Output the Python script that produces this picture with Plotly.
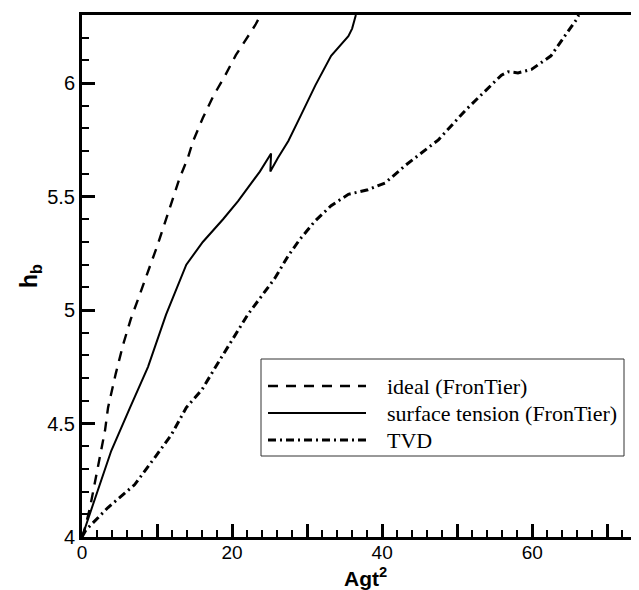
import plotly.graph_objects as go

# ---- data ----
ideal_x = [0.0, 0.4, 1.07, 1.87, 3.07, 3.47, 4.5, 5.5, 6.5, 7.5, 8.5, 10.0, 11.0, 12.0, 13.0, 14.1, 14.8, 16.1, 17.5, 19.1, 20.5, 23.1, 23.8]
ideal_y = [4.0, 4.04, 4.13, 4.27, 4.47, 4.57, 4.72, 4.85, 4.96, 5.05, 5.14, 5.28, 5.38, 5.48, 5.58, 5.67, 5.744, 5.846, 5.943, 6.035, 6.123, 6.256, 6.3]

surf_x = [0.0, 0.8, 2.1, 3.9, 6.4, 8.8, 11.2, 13.9, 16.1, 18.8, 20.8, 22.1, 23.7, 25.2, 25.1, 26.1, 27.5, 29.2, 31.1, 33.2, 34.4, 35.5, 36.0, 36.5]
surf_y = [4.0, 4.08, 4.2, 4.38, 4.57, 4.75, 4.98, 5.2, 5.3, 5.4, 5.48, 5.54, 5.61, 5.69, 5.61, 5.67, 5.745, 5.86, 5.99, 6.12, 6.167, 6.207, 6.24, 6.3]

tvd_x = [0.0, 0.5, 3.47, 7.0, 9.7, 11.9, 13.9, 15.0, 16.0, 18.0, 20.0, 22.1, 25.7, 27.5, 29.0, 31.0, 33.2, 35.5, 38.1, 40.4, 43.2, 47.5, 51.1, 55.9, 56.8, 58.1, 59.9, 62.5, 64.4, 65.9, 66.2]
tvd_y = [4.0, 4.03, 4.13, 4.23, 4.35, 4.45, 4.57, 4.61, 4.65, 4.76, 4.87, 4.98, 5.14, 5.24, 5.31, 5.39, 5.46, 5.51, 5.53, 5.56, 5.64, 5.75, 5.88, 6.035, 6.05, 6.045, 6.06, 6.12, 6.21, 6.28, 6.3]

legend_names = ["ideal (FronTier)", "surface tension (FronTier)", "TVD"]
x_title = "<b>Agt<sup>2</sup></b>"
y_title = "<b>h<sub>b</sub></b>"
x_range = [0, 75.3]
y_range = [4, 6.3]

# ---- styles ----
styles = [
    dict(color="black", width=2.4, dash="10px,8px"),
    dict(color="black", width=2.0, dash="solid"),
    dict(color="black", width=3.0, dash="8px,4px,2px,4px"),
]

fig = go.Figure()
for xs, ys, nm, st in zip([ideal_x, surf_x, tvd_x], [ideal_y, surf_y, tvd_y], legend_names, styles):
    fig.add_trace(go.Scatter(x=xs, y=ys, mode="lines", name=nm, line=st, showlegend=False))

W, H = 639, 590
L, R, T, B = 74, 0, 7, 61
pw, ph = W - L - R, H - T - B

def px2paper(px, py):
    return (px - L) / pw, (H - B - py) / ph

# manual legend
x0, y0 = px2paper(253, 351)
x1, y1 = px2paper(616, 448)
fig.add_shape(type="rect", xref="paper", yref="paper", x0=x0, y0=y1, x1=x1, y1=y0,
              line=dict(color="#333333", width=1), fillcolor="white", layer="above")
rows = [378, 405, 432]
for nm, st, ry in zip(legend_names, styles, rows):
    lx0, ly = px2paper(260, ry)
    lx1, _ = px2paper(358, ry)
    fig.add_shape(type="line", xref="paper", yref="paper", x0=lx0, x1=lx1, y0=ly, y1=ly,
                  line=st, layer="above")
    tx, _ = px2paper(377, ry)
    fig.add_annotation(xref="paper", yref="paper", x=tx, y=ly, text=nm, showarrow=False,
                       xanchor="left", yanchor="middle",
                       font=dict(family="Liberation Serif", size=22, color="black"))

# axis titles as annotations for exact placement
tx, ty = px2paper(357, 569)
fig.add_annotation(xref="paper", yref="paper", x=tx, y=ty, text=x_title, showarrow=False,
                   xanchor="center", yanchor="middle",
                   font=dict(family="Liberation Sans", size=21, color="black"))
tx, ty = px2paper(22, 268)
fig.add_annotation(xref="paper", yref="paper", x=tx, y=ty, text=y_title, showarrow=False,
                   xanchor="center", yanchor="middle", textangle=-90,
                   font=dict(family="Liberation Sans", size=23, color="black"))

fig.update_layout(
    width=W, height=H,
    margin=dict(l=L, r=R, t=T, b=B, pad=0),
    paper_bgcolor="white", plot_bgcolor="white",
    font=dict(family="Liberation Sans", size=19, color="black"),
    showlegend=False,
    xaxis2=dict(overlaying="x", anchor="y", side="bottom", range=x_range,
                showgrid=False, zeroline=False, showline=False, showticklabels=False,
                tickmode="linear", tick0=0, dtick=10,
                ticks="inside", ticklen=13, tickwidth=3, tickcolor="black"),
    xaxis=dict(
        range=x_range, showgrid=False, zeroline=False,
        showline=True, linecolor="black", linewidth=3, mirror=True,
        tickmode="linear", tick0=0, dtick=20,
        ticks="inside", ticklen=13, tickwidth=3, tickcolor="black",
        minor=dict(tickmode="linear", tick0=0, dtick=2, ticks="inside", ticklen=7, tickwidth=1.5, tickcolor="black"),
        tickfont=dict(size=19), ticklabelstandoff=-4,
    ),
    yaxis=dict(
        range=y_range, showgrid=False, zeroline=False,
        showline=True, linecolor="black", linewidth=3, mirror=False,
        tickmode="linear", tick0=4, dtick=0.5,
        ticks="inside", ticklen=13, tickwidth=3, tickcolor="black",
        minor=dict(tickmode="linear", tick0=4, dtick=0.1, ticks="inside", ticklen=7, tickwidth=1.5, tickcolor="black"),
        tickfont=dict(size=20),
    ),
)
# invisible trace to activate the tick-only overlay axis
fig.add_trace(go.Scatter(x=[x_range[0]], y=[y_range[0]], xaxis="x2", mode="markers",
                         marker=dict(opacity=0), showlegend=False, hoverinfo="skip"))

fig.write_html("out.html")
